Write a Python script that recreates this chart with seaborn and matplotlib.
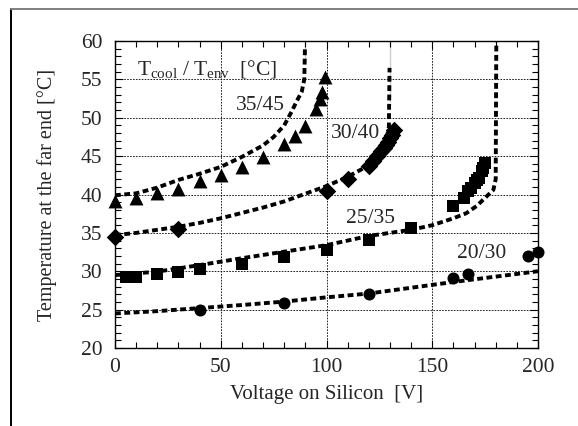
import matplotlib
matplotlib.use("Agg")
import matplotlib.pyplot as plt
from matplotlib.lines import Line2D
from matplotlib.ticker import MultipleLocator
import seaborn as sns
import pandas as pd

# ---------------- data ----------------
# measured points
tri_v = [0, 10, 20, 30, 40, 50, 60, 70, 80, 85, 90, 95, 97, 98, 99.3]
tri_t = [39.1, 39.5, 40.15, 40.7, 41.7, 42.5, 43.6, 44.9, 46.6, 47.6, 48.9, 51.2, 52.4, 53.4, 55.3]

dia_v = [0, 30, 100, 110, 120, 122, 124, 126, 127, 128, 129, 130, 131, 132]
dia_t = [34.4, 35.5, 40.5, 42.0, 43.7, 44.4, 45.0, 45.7, 46.0, 46.4, 46.8, 47.3, 47.8, 48.4]

sq_v = [5, 10, 20, 30, 40, 60, 80, 100, 120, 140, 160, 165, 167, 168.5, 170, 171, 172, 173.5, 174, 175]
sq_t = [29.2, 29.2, 29.6, 29.9, 30.3, 30.9, 31.8, 32.8, 34.1, 35.7, 38.5, 39.6, 40.4, 40.9, 41.5, 41.9, 42.2, 43.0, 43.5, 44.1]

circ_v = [40, 80, 120, 160, 167, 195.5, 200]
circ_t = [24.95, 25.8, 27.1, 29.1, 29.6, 32.0, 32.5]

# model curves (dashed)
c3545_v = [0, 10, 20, 30, 40, 50, 60, 70, 75, 80, 83.5, 86, 88.3, 89.5, 89.8, 89.8]
c3545_t = [39.9, 40.15, 40.9, 41.9, 42.7, 43.6, 44.9, 46.4, 47.5, 49.0, 50.8, 52.2, 53.4, 55.0, 57.0, 61.0]

c3040_v = [0, 10, 20, 30, 40, 50, 60, 70, 80, 90, 100, 110, 120, 125, 128, 129.5, 129.8, 129.8]
c3040_t = [34.7, 35.0, 35.4, 35.8, 36.3, 36.9, 37.6, 38.3, 39.1, 40.1, 41.1, 42.3, 43.8, 45.3, 46.8, 48.8, 52.0, 61.0]

c2535_v = [0, 20, 40, 60, 80, 100, 120, 140, 150, 160, 166, 171, 175.5, 178.9, 180, 180.3]
c2535_t = [29.5, 29.95, 30.8, 31.7, 32.55, 33.4, 34.6, 35.4, 36.0, 36.9, 37.55, 38.5, 39.7, 40.6, 42.0, 61.0]

c2030_v = [0, 20, 40, 60, 80, 100, 120, 140, 160, 180, 200]
c2030_t = [24.5, 24.8, 25.2, 25.6, 26.05, 26.6, 27.1, 27.85, 28.6, 29.3, 30.0]

curve_labels = ["35/45", "30/40", "25/35", "20/30"]
label_v = [68.6, 113.5, 120.9, 173.4]
label_t = [51.65, 48.0, 36.9, 32.3]

x_ticks = [0, 50, 100, 150, 200]
y_ticks = [20, 25, 30, 35, 40, 45, 50, 55, 60]

# ---------------- style ----------------
sns.set_theme(style="ticks")
plt.rcParams["font.family"] = ["Liberation Serif", "DejaVu Serif"]
plt.rcParams["mathtext.fontset"] = "custom"
plt.rcParams["mathtext.rm"] = "Liberation Serif"
plt.rcParams["mathtext.it"] = "Liberation Serif:italic"

W, H = 578, 426
fig = plt.figure(figsize=(W / 100, H / 100), dpi=100)
L, R, T, B = 115, 538, 41, 348
ax = fig.add_axes([L / W, 1 - B / H, (R - L) / W, (B - T) / H])

# frame around the figure (left and top edges visible)
fig.add_artist(Line2D([11 / W, 11 / W], [0, 1 - 9 / H], transform=fig.transFigure,
                      color="black", lw=1.4))
fig.add_artist(Line2D([11 / W, 1], [1 - 9 / H, 1 - 9 / H], transform=fig.transFigure,
                      color="0.5", lw=1.4))

for cv, ct in [(c3545_v, c3545_t), (c3040_v, c3040_t), (c2535_v, c2535_t), (c2030_v, c2030_t)]:
    df = pd.DataFrame({"v": cv, "t": ct})
    sns.lineplot(data=df, x="v", y="t", ax=ax, sort=False, color="black",
                 lw=2.8, zorder=3)
for l in ax.lines:
    l.set_dashes((1.5, 0.9))
    l.set_dash_capstyle("butt")

marker_sets = [(tri_v, tri_t, "^", 100), (dia_v, dia_t, "D", 80),
               (sq_v, sq_t, "s", 85), (circ_v, circ_t, "o", 75)]
for mv, mt, mk, sz in marker_sets:
    df = pd.DataFrame({"v": mv, "t": mt})
    sns.scatterplot(data=df, x="v", y="t", ax=ax, marker=mk, s=sz, color="black",
                    edgecolor="black", linewidth=0, zorder=4, clip_on=False)

for txt, lv, lt in zip(curve_labels, label_v, label_t):
    ax.text(lv, lt, txt, ha="center", va="center", fontsize=15.5, zorder=5)

ax.text(10.4, 55.6, r"$\mathrm{T_{cool}}$ / $\mathrm{T_{env}}$  [°C]", ha="left",
        va="baseline", fontsize=15.5, zorder=5)

ax.set_xlim(0, 200)
ax.set_ylim(20, 60)
ax.set_xticks(x_ticks)
ax.set_yticks(y_ticks)
ax.set_xticklabels([str(v) for v in x_ticks])
ax.set_yticklabels([str(v) for v in y_ticks])
ax.xaxis.set_minor_locator(MultipleLocator(10))
ax.yaxis.set_minor_locator(MultipleLocator(1))
ax.tick_params(which="both", direction="in", top=True, right=True, color="black")
ax.tick_params(which="major", length=6, width=0.8, pad=7, labelsize=15.5)
ax.tick_params(which="minor", length=4, width=0.8)
ax.tick_params(axis="y", which="major", pad=9)

ax.grid(True, which="major", color="black", linestyle=(0, (2, 1.5)), lw=0.6)
ax.set_axisbelow(True)
for sp in ax.spines.values():
    sp.set_color("black")
    sp.set_linewidth(1.0)

ax.set_xlabel("Voltage on Silicon  [V]", fontsize=15)
ax.xaxis.label.set_va("center")
ax.xaxis.set_label_coords(0.5, -(395 - B) / (B - T))
ax.set_ylabel("Temperature at the far end [°C]", fontsize=14.5)
ax.yaxis.label.set_va("center")
ax.yaxis.set_label_coords(-(L - 47) / (R - L), 0.5)

fig.savefig("out.png", dpi=100)
